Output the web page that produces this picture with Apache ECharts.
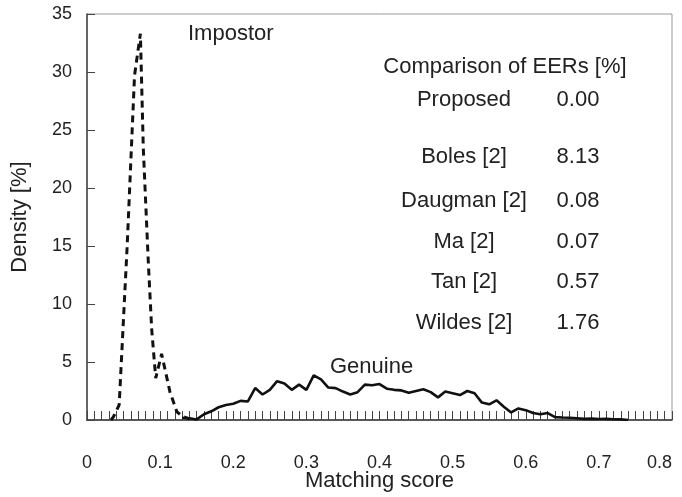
<!DOCTYPE html>
<html>
<head>
<meta charset="utf-8">
<script src="https://cdn.jsdelivr.net/npm/echarts@6/dist/echarts.min.js"></script>
<style>
html,body{margin:0;padding:0;background:#fff;}
#chart{width:682px;height:497px;}
</style>
</head>
<body>
<div id="chart"></div>
<script>
// Impostor distribution (dashed)
var impostorScore   = [0.033, 0.036, 0.044, 0.055, 0.065, 0.073, 0.077, 0.084, 0.0885, 0.094, 0.102, 0.109, 0.1135, 0.123, 0.131, 0.14];
var impostorDensity = [0.0,   0.26,  1.3,   15.1,  29.7,  33.3,  23.4,  13.4,  7.8,    3.6,   5.7,   3.7,   2.4,    0.7,   0.3,   0.1];

// Genuine distribution (solid)
var genuineScore = [0.13,0.14,0.15,0.16,0.17,0.18,0.19,0.20,0.21,0.22,0.23,0.24,0.25,0.26,0.27,0.28,0.29,0.30,0.31,0.32,0.33,0.34,0.35,0.36,0.37,0.38,0.39,0.40,0.41,0.42,0.43,0.44,0.45,0.46,0.47,0.48,0.49,0.50,0.51,0.52,0.53,0.54,0.55,0.56,0.57,0.58,0.59,0.60,0.61,0.62,0.63,0.64,0.65,0.66,0.67,0.68,0.69,0.70,0.71,0.72,0.73,0.74];
var genuineDensity = [0.2,0.15,0.05,0.5,0.75,1.1,1.3,1.4,1.65,1.6,2.75,2.2,2.6,3.35,3.15,2.6,3.05,2.6,3.85,3.5,2.8,2.75,2.45,2.2,2.4,3.05,3.0,3.1,2.7,2.6,2.55,2.35,2.5,2.65,2.4,1.95,2.45,2.3,2.15,2.5,2.3,1.5,1.35,1.7,1.15,0.65,1.0,0.85,0.6,0.5,0.6,0.25,0.22,0.2,0.15,0.1,0.12,0.08,0.1,0.06,0.05,0.0];

var xTicks = [0, 0.8, 0.1];   // min, max, interval
var yTicks = [0, 35, 5];

var tableTitle = 'Comparison of EERs [%]';
var methods = ['Proposed', 'Boles [2]', 'Daugman [2]', 'Ma [2]', 'Tan [2]', 'Wildes [2]'];
var eers    = ['0.00', '8.13', '0.08', '0.07', '0.57', '1.76'];

var FONT = '"Liberation Sans", Arial, sans-serif';
var TXT = '#222';

function pairs(xs, ys){ return xs.map(function(x,i){ return [x, ys[i]]; }); }

var rowY = [100, 157, 201, 242, 282, 323];
var graphics = [
  {type:'text', left:188, top:23, style:{text:'Impostor', font:'22px ' + FONT, fill:TXT}},
  {type:'text', left:330, top:356, style:{text:'Genuine', font:'22px ' + FONT, fill:TXT}},
  {type:'text', x:505, y:67, style:{text:tableTitle, font:'22px ' + FONT, fill:TXT, align:'center', verticalAlign:'middle'}}
];
methods.forEach(function(m, i){
  graphics.push({type:'text', x:464, y:rowY[i], style:{text:m, font:'22px ' + FONT, fill:TXT, align:'center', verticalAlign:'middle'}});
  graphics.push({type:'text', x:578, y:rowY[i], style:{text:eers[i], font:'22px ' + FONT, fill:TXT, align:'center', verticalAlign:'middle'}});
});

var chart = echarts.init(document.getElementById('chart'), null, {renderer:'canvas'});
chart.setOption({
  animation:false,
  backgroundColor:'#fff',
  grid:{left:87, right:10, top:14, bottom:77, show:true, borderColor:'#999', borderWidth:1,
        containLabel:false, outerBoundsMode:'none'},
  xAxis:{
    type:'value', min:xTicks[0], max:xTicks[1], interval:xTicks[2],
    name:'Matching score', nameLocation:'middle', nameGap:50, nameMoveOverlap:false,
    nameTextStyle:{fontFamily:FONT, fontSize:22, color:TXT},
    axisLine:{show:true, lineStyle:{color:'#333', width:1.5}},
    axisTick:{show:true, inside:true, length:9, lineStyle:{color:'#444', width:1}},
    minorTick:{show:true, splitNumber:10, length:9, lineStyle:{color:'#444', width:1}},
    axisLabel:{margin:34, fontFamily:FONT, fontSize:18, color:TXT, alignMaxLabel:'right'},
    splitLine:{show:false}
  },
  yAxis:{
    type:'value', min:yTicks[0], max:yTicks[1], interval:yTicks[2],
    name:'Density [%]', nameLocation:'middle', nameGap:56, nameMoveOverlap:false,
    nameTextStyle:{fontFamily:FONT, fontSize:22, color:TXT},
    axisLine:{show:true, lineStyle:{color:'#444', width:1.5}},
    axisTick:{show:true, inside:true, length:8, lineStyle:{color:'#444', width:1}},
    axisLabel:{margin:15, fontFamily:FONT, fontSize:18, color:TXT},
    splitLine:{show:false}
  },
  series:[
    {type:'line', name:'Impostor', data:pairs(impostorScore, impostorDensity), showSymbol:false, symbol:'none',
     lineStyle:{color:'#111', width:3, type:[7,5]}, z:3},
    {type:'line', name:'Genuine', data:pairs(genuineScore, genuineDensity), showSymbol:false, symbol:'none',
     lineStyle:{color:'#111', width:2.6}, z:3}
  ],
  graphic:graphics
});
</script>
</body>
</html>
